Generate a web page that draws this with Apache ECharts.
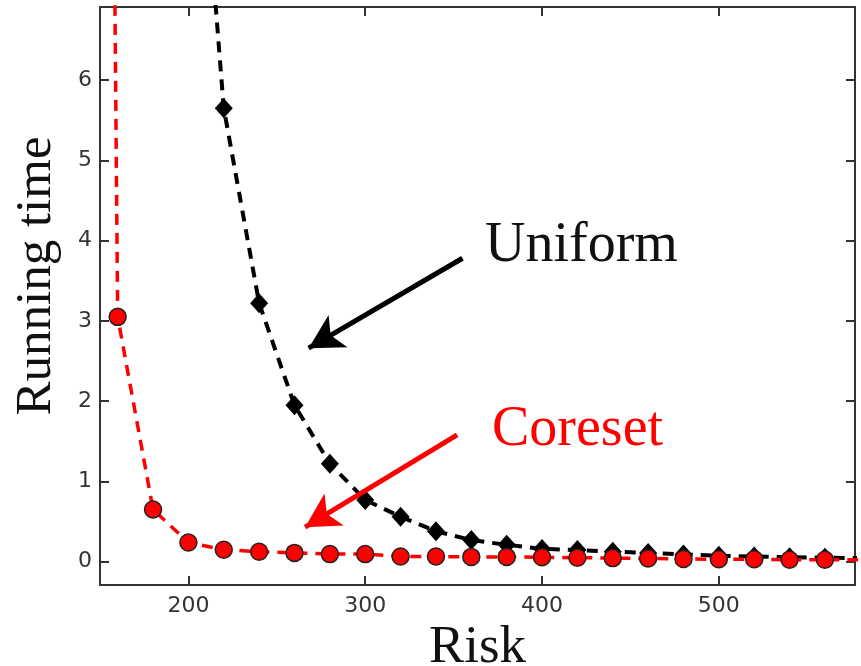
<!DOCTYPE html>
<html>
<head>
<meta charset="utf-8">
<script src="https://cdn.jsdelivr.net/npm/echarts@6.0.0/dist/echarts.min.js"></script>
<style>
  html, body { margin: 0; padding: 0; background: #fff; }
  #chart { width: 861px; height: 666px; }
</style>
</head>
<body>
<div id="chart"></div>
<script>
// x = risk, y = running time. first points sit above the plot and only steer the curve into the top edge
var coresetRisk = [150, 160, 180, 200, 220, 240, 260, 280, 300, 320, 340, 360, 380, 400, 420, 440, 460, 480, 500, 520, 540, 560, 580];
var coresetTime = [28, 3.05, 0.65, 0.24, 0.15, 0.125, 0.11, 0.095, 0.095, 0.065, 0.065, 0.06, 0.06, 0.055, 0.05, 0.045, 0.04, 0.035, 0.03, 0.03, 0.025, 0.025, 0.025];

var uniformRisk = [200, 220, 240, 260, 280, 300, 320, 340, 360, 380, 400, 420, 440, 460, 480, 500, 520, 540, 560, 580];
var uniformTime = [11.2, 5.65, 3.22, 1.95, 1.22, 0.77, 0.56, 0.38, 0.27, 0.21, 0.16, 0.145, 0.125, 0.11, 0.09, 0.075, 0.065, 0.055, 0.05, 0.045];

var xTicks = [200, 300, 400, 500];
var yTicks = [0, 1, 2, 3, 4, 5, 6];

// arrow ends in data units: [from, to]
var uniformArrow = [[355, 3.78], [268, 2.66]];
var coresetArrow = [[352, 1.58], [266, 0.43]];

var xMin = 150, xMax = 577, yMin = -0.29, yMax = 6.91;

var myChart = echarts.init(document.getElementById('chart'));

function pairs(xs, ys) {
    return xs.map(function (x, i) { return [x, ys[i]]; });
}

var tickFont = {
    fontFamily: 'DejaVu Sans',
    fontSize: 22,
    color: '#333'
};
var axisLine = { show: true, onZero: false, lineStyle: { color: '#333', width: 2 } };

function xAxis(pos, labels) {
    return {
        type: 'value',
        position: pos,
        min: xMin,
        max: xMax,
        axisLine: axisLine,
        axisTick: { show: true, inside: true, length: 9, customValues: xTicks, lineStyle: { color: '#333', width: 2 } },
        axisLabel: Object.assign({ show: labels, margin: 10, customValues: xTicks }, tickFont),
        splitLine: { show: false }
    };
}
function yAxis(pos, labels) {
    return {
        type: 'value',
        position: pos,
        min: yMin,
        max: yMax,
        axisLine: axisLine,
        axisTick: { show: true, inside: true, length: 9, customValues: yTicks, lineStyle: { color: '#333', width: 2 } },
        axisLabel: Object.assign({ show: labels, margin: 8, customValues: yTicks }, tickFont),
        splitLine: { show: false }
    };
}

var xBottom = xAxis('bottom', true);
xBottom.name = 'Risk';
xBottom.nameLocation = 'middle';
xBottom.nameGap = 34;
xBottom.nameTextStyle = { fontFamily: 'Liberation Serif', fontSize: 53, color: '#111' };

var option = {
    animation: false,
    backgroundColor: '#fff',
    grid: { left: 100, right: 6, top: 7, bottom: 81, containLabel: false, outerBoundsMode: 'none' },
    xAxis: [xBottom, xAxis('top', false)],
    yAxis: [yAxis('left', true), yAxis('right', false)],
    series: [{
        name: 'Uniform',
        type: 'line',
        xAxisIndex: 0,
        yAxisIndex: 0,
        data: pairs(uniformRisk, uniformTime),
        symbol: 'diamond',
        symbolSize: [18, 20],
        itemStyle: { color: '#000' },
        lineStyle: { color: '#000', width: 4, type: [11, 8] },
        z: 2,
        markLine: {
            silent: true,
            symbol: ['none', 'arrow'],
            symbolSize: [28, 34],
            label: { show: false },
            lineStyle: { color: '#000', width: 5, type: 'solid' },
            data: [[{ coord: uniformArrow[0] }, { coord: uniformArrow[1] }]]
        }
    }, {
        name: 'Coreset',
        type: 'line',
        xAxisIndex: 0,
        yAxisIndex: 0,
        data: pairs(coresetRisk, coresetTime),
        symbol: 'circle',
        symbolSize: 17,
        itemStyle: { color: '#f00', borderColor: '#222', borderWidth: 1.5 },
        lineStyle: { color: '#f00', width: 3.5, type: [11, 8] },
        z: 3,
        markLine: {
            silent: true,
            symbol: ['none', 'arrow'],
            symbolSize: [28, 34],
            label: { show: false },
            lineStyle: { color: '#f00', width: 5, type: 'solid' },
            data: [[{ coord: coresetArrow[0] }, { coord: coresetArrow[1] }]]
        }
    }],
    graphic: [{
        type: 'text',
        x: 37,
        y: 276,
        rotation: Math.PI / 2,
        style: {
            text: 'Running time',
            fontFamily: 'Liberation Serif',
            fontSize: 51,
            fill: '#111',
            align: 'center',
            verticalAlign: 'middle'
        }
    }, {
        type: 'text',
        left: 485,
        top: 218,
        style: {
            text: 'Uniform',
            fontFamily: 'Liberation Serif',
            fontSize: 56,
            fill: '#111'
        }
    }, {
        type: 'text',
        left: 492,
        top: 402,
        style: {
            text: 'Coreset',
            fontFamily: 'Liberation Serif',
            fontSize: 56,
            fill: '#f00'
        }
    }]
};

myChart.setOption(option);
</script>
</body>
</html>
